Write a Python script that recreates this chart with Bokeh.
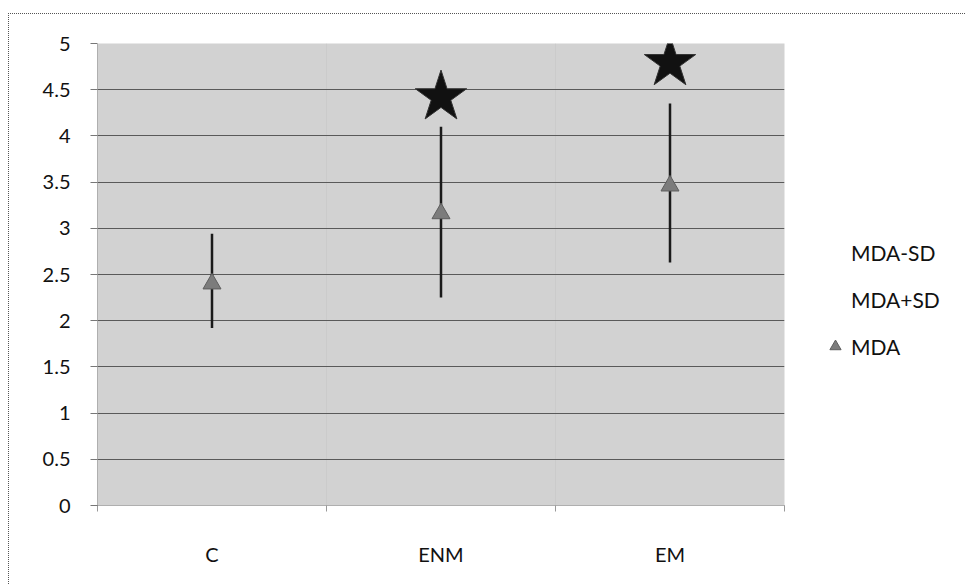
from bokeh.plotting import figure
from bokeh.models import FixedTicker, Legend, LegendItem, ColumnDataSource
from bokeh.embed import file_html
from bokeh.resources import INLINE

categories = ["C", "ENM", "EM"]
mda = [2.40, 3.16, 3.46]
mda_minus_sd = [1.92, 2.25, 2.63]
mda_plus_sd = [2.94, 4.10, 4.35]
star_cats = ["ENM", "EM"]
star_vals = [4.42, 4.79]
y_ticks = [0, 0.5, 1, 1.5, 2, 2.5, 3, 3.5, 4, 4.5, 5]

FONT = "Lato"
xpos = [categories.index(c) + 0.5 for c in categories]
star_x = [categories.index(c) + 0.5 for c in star_cats]

p = figure(output_backend="svg", toolbar_location=None,
           frame_width=687, frame_height=462,
           min_border_left=88, min_border_top=29, min_border_right=181, min_border_bottom=81,
           x_range=(0, 3), y_range=(0, 5))
p.styles = {"margin-left": "8px", "margin-top": "13px",
            "border-left": "1px dotted #555", "border-top": "1px dotted #555"}
p.background_fill_color = "#d2d2d2"
p.border_fill_color = "white"
p.outline_line_color = None

# axes
p.yaxis.ticker = FixedTicker(ticks=y_ticks)
p.yaxis.major_label_overrides = {t: ("%g" % t) for t in y_ticks}
p.yaxis.axis_line_color = "#777"
p.yaxis.axis_line_dash = "1 1"
p.yaxis.major_tick_line_color = "#777"
p.yaxis.major_tick_out = 7
p.yaxis.major_tick_in = 0
p.yaxis.minor_tick_line_color = None
p.yaxis.major_label_standoff = 20
p.yaxis.major_label_text_font = FONT
p.yaxis.major_label_text_font_size = "20px"
p.yaxis.major_label_text_color = "#111"

p.xaxis.ticker = FixedTicker(ticks=xpos, minor_ticks=[0, 1, 2, 3])
p.xaxis.major_label_overrides = {x: c for x, c in zip(xpos, categories)}
p.xaxis.axis_line_color = "#777"
p.xaxis.axis_line_dash = "1 1"
p.xaxis.major_tick_line_color = None
p.xaxis.minor_tick_line_color = "#999"
p.xaxis.minor_tick_out = 6
p.xaxis.minor_tick_in = 0
p.xaxis.major_label_standoff = 30
p.xaxis.major_label_text_font = FONT
p.xaxis.major_label_text_font_size = "20px"
p.xaxis.major_label_text_color = "#111"

p.ygrid.ticker = FixedTicker(ticks=y_ticks)
p.ygrid.grid_line_color = "#5a5a5a"
p.ygrid.grid_line_width = 1
p.xgrid.ticker = FixedTicker(ticks=[1, 2])
p.xgrid.grid_line_color = "#cbcbcb"

src = ColumnDataSource(dict(x=xpos, mda=mda, lo=mda_minus_sd, hi=mda_plus_sd))
p.segment(x0="x", y0="lo", x1="x", y1="hi", source=src, line_color="#1a1a1a", line_width=2.5)
r_lo = p.scatter(x="x", y="lo", source=src, size=1, alpha=0)
r_hi = p.scatter(x="x", y="hi", source=src, size=1, alpha=0)
r_mda = p.scatter(x="x", y="mda", source=src, marker="triangle", size=18,
                  fill_color="#7c7c7c", line_color="#5e5e5e", line_width=1)
p.scatter(x=star_x, y=star_vals, marker="star", size=54,
          fill_color="#111111", line_color="#333333")

legend = Legend(items=[LegendItem(label="MDA-SD", renderers=[r_lo]),
                       LegendItem(label="MDA+SD", renderers=[r_hi]),
                       LegendItem(label="MDA", renderers=[r_mda])],
                location=(37, 145))
legend.label_text_font = FONT
legend.label_text_font_size = "21px"
legend.label_text_color = "#111"
legend.border_line_color = None
legend.background_fill_alpha = 0
legend.glyph_width = 28
legend.glyph_height = 28
legend.label_height = 20
legend.label_standoff = 2
legend.spacing = 19
legend.padding = 0
legend.margin = 0
p.add_layout(legend, "right")

open("out.html", "w").write(file_html(p, INLINE))
